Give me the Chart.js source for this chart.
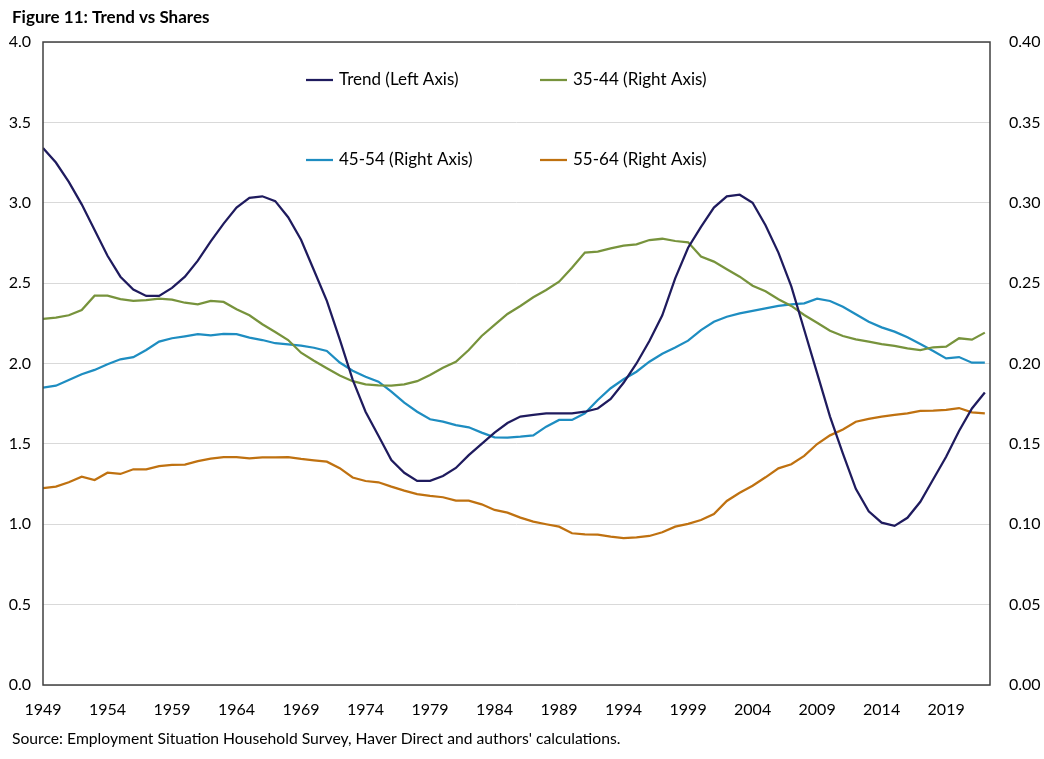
<!DOCTYPE html>
<html>
<head>
<meta charset="utf-8">
<script src="https://cdn.jsdelivr.net/npm/chart.js@4/dist/chart.umd.min.js"></script>
<style>
  html, body { margin: 0; padding: 0; background: #fff; }
  #wrap { width: 1044px; height: 759px; position: relative; }
</style>
</head>
<body>
<div id="wrap"><canvas id="trendChart"></canvas></div>
<script>
const years = [];
for (let y = 1949; y <= 2022; y++) years.push(y);

const xTickYears = [1949, 1954, 1959, 1964, 1969, 1974, 1979, 1984, 1989, 1994, 1999, 2004, 2009, 2014, 2019];

const trend = [
  3.34, 3.25, 3.13, 2.99, 2.83, 2.67, 2.54, 2.46, 2.42, 2.42,
  2.47, 2.54, 2.64, 2.76, 2.87, 2.97, 3.03, 3.04, 3.01, 2.91,
  2.77, 2.58, 2.39, 2.15, 1.90, 1.70, 1.55, 1.40, 1.32, 1.27,
  1.27, 1.30, 1.35, 1.43, 1.50, 1.57, 1.63, 1.67, 1.68, 1.69,
  1.69, 1.69, 1.70, 1.72, 1.78, 1.88, 2.00, 2.14, 2.30, 2.53,
  2.72, 2.85, 2.97, 3.04, 3.05, 3.00, 2.86, 2.69, 2.48, 2.21,
  1.94, 1.67, 1.44, 1.22, 1.08, 1.01, 0.99, 1.04, 1.14, 1.28,
  1.42, 1.58, 1.72, 1.82
];

const share3544 = [
  0.2277, 0.2285, 0.2300, 0.2333, 0.2422, 0.2422, 0.2400, 0.2390, 0.2395, 0.2403,
  0.2397, 0.2378, 0.2368, 0.2389, 0.2383, 0.2337, 0.2300, 0.2244, 0.2196, 0.2146,
  0.2067, 0.2017, 0.1970, 0.1925, 0.1890, 0.1870, 0.1864, 0.1862, 0.1870, 0.1890,
  0.1928, 0.1974, 0.2011, 0.2084, 0.2171, 0.2240, 0.2308, 0.2358, 0.2412, 0.2457,
  0.2509, 0.2596, 0.2690, 0.2696, 0.2716, 0.2733, 0.2741, 0.2768, 0.2776, 0.2762,
  0.2754, 0.2665, 0.2634, 0.2586, 0.2540, 0.2484, 0.2449, 0.2400, 0.2358, 0.2302,
  0.2254, 0.2204, 0.2171, 0.2150, 0.2136, 0.2121, 0.2109, 0.2094, 0.2084, 0.2101,
  0.2105, 0.2157, 0.2148, 0.2192
];

const share4554 = [
  0.1850, 0.1862, 0.1897, 0.1933, 0.1960, 0.1995, 0.2026, 0.2039, 0.2084, 0.2136,
  0.2157, 0.2169, 0.2182, 0.2175, 0.2184, 0.2182, 0.2161, 0.2146, 0.2126, 0.2119,
  0.2111, 0.2098, 0.2078, 0.2006, 0.1955, 0.1918, 0.1887, 0.1825, 0.1756, 0.1700,
  0.1653, 0.1638, 0.1617, 0.1603, 0.1570, 0.1541, 0.1539, 0.1545, 0.1553, 0.1607,
  0.1649, 0.1649, 0.1690, 0.1773, 0.1846, 0.1902, 0.1949, 0.2011, 0.2061, 0.2100,
  0.2142, 0.2208, 0.2260, 0.2291, 0.2312, 0.2328, 0.2343, 0.2358, 0.2368, 0.2374,
  0.2403, 0.2389, 0.2353, 0.2306, 0.2260, 0.2225, 0.2198, 0.2163, 0.2121, 0.2078,
  0.2032, 0.2040, 0.2005, 0.2005
];

const share5564 = [
  0.1224, 0.1234, 0.1261, 0.1296, 0.1275, 0.1321, 0.1313, 0.1342, 0.1342, 0.1362,
  0.1369, 0.1371, 0.1393, 0.1408, 0.1418, 0.1418, 0.1410, 0.1416, 0.1416, 0.1418,
  0.1406, 0.1398, 0.1389, 0.1349, 0.1291, 0.1269, 0.1261, 0.1234, 0.1209, 0.1188,
  0.1176, 0.1168, 0.1147, 0.1147, 0.1124, 0.1089, 0.1072, 0.1041, 0.1016, 0.1000,
  0.0985, 0.0944, 0.0937, 0.0936, 0.0923, 0.0914, 0.0919, 0.0927, 0.0950, 0.0985,
  0.1002, 0.1026, 0.1064, 0.1145, 0.1196, 0.1240, 0.1292, 0.1348, 0.1373, 0.1425,
  0.1499, 0.1553, 0.1590, 0.1638, 0.1655, 0.1669, 0.1680, 0.1690, 0.1705, 0.1707,
  0.1711, 0.1723, 0.1696, 0.1690
];

const FONT = "Lato, 'Open Sans', sans-serif";
const TEXT = "#000000";

function pts(values) {
  return years.map((yr, i) => ({ x: yr, y: values[i] }));
}

// title, source note, frame and the 2x2 legend inside the plot
const decorations = {
  id: "decorations",
  afterDraw(chart) {
    const { ctx, chartArea: a } = chart;
    ctx.save();
    ctx.strokeStyle = "#404040";
    ctx.lineWidth = 1.5;
    ctx.strokeRect(a.left, a.top, a.right - a.left, a.bottom - a.top);

    ctx.fillStyle = TEXT;
    ctx.textBaseline = "middle";
    ctx.textAlign = "left";
    ctx.font = "bold 17px " + FONT;
    ctx.fillText("Figure 11: Trend vs Shares", 12, 18);
    ctx.font = "15.7px " + FONT;
    ctx.fillText("Source: Employment Situation Household Survey, Haver Direct and authors' calculations.", 12, 739);

    const slots = [[306, 80], [540, 80], [306, 160], [540, 160]];
    ctx.font = "17px " + FONT;
    chart.data.datasets.forEach((ds, k) => {
      const [lx, ly] = slots[k];
      ctx.strokeStyle = ds.borderColor;
      ctx.lineWidth = 2.25;
      ctx.beginPath();
      ctx.moveTo(lx, ly);
      ctx.lineTo(lx + 27, ly);
      ctx.stroke();
      ctx.fillStyle = TEXT;
      ctx.fillText(ds.label, lx + 33, ly);
    });
    ctx.restore();
  }
};

new Chart(document.getElementById("trendChart"), {
  type: "line",
  data: {
    datasets: [
      { label: "Trend (Left Axis)", data: pts(trend), borderColor: "#1F1B5E", yAxisID: "yL" },
      { label: "35-44 (Right Axis)", data: pts(share3544), borderColor: "#77933C", yAxisID: "yR" },
      { label: "45-54 (Right Axis)", data: pts(share4554), borderColor: "#1E8DC1", yAxisID: "yR" },
      { label: "55-64 (Right Axis)", data: pts(share5564), borderColor: "#BF7110", yAxisID: "yR" }
    ]
  },
  options: {
    responsive: true,
    maintainAspectRatio: false,
    animation: false,
    layout: { padding: { top: 42, left: 0, right: 0, bottom: 0 } },
    elements: {
      point: { radius: 0 },
      line: { borderWidth: 2.25, tension: 0 }
    },
    plugins: { legend: { display: false }, tooltip: { enabled: false } },
    scales: {
      x: {
        type: "linear",
        min: 1949,
        max: 2022.4,
        afterBuildTicks: (s) => { s.ticks = xTickYears.map(v => ({ value: v })); },
        afterFit: (s) => { s.height = 74; },
        grid: { display: false, drawTicks: false },
        border: { display: false },
        ticks: {
          padding: 15,
          maxRotation: 0,
          autoSkip: false,
          color: TEXT,
          font: { family: FONT, size: 16 },
          callback: (v) => String(v)
        }
      },
      yL: {
        position: "left",
        min: 0,
        max: 4,
        afterFit: (s) => { s.width = 43; },
        ticks: {
          stepSize: 0.5,
          padding: 12,
          color: TEXT,
          font: { family: FONT, size: 16 },
          callback: (v) => v.toFixed(1)
        },
        grid: { color: "#d9d9d9", lineWidth: 1, drawTicks: false },
        border: { display: false }
      },
      yR: {
        position: "right",
        min: 0,
        max: 0.4,
        afterFit: (s) => { s.width = 54; },
        ticks: {
          stepSize: 0.05,
          padding: 19,
          color: TEXT,
          font: { family: FONT, size: 16 },
          callback: (v) => v.toFixed(2)
        },
        grid: { display: false, drawTicks: false },
        border: { display: false }
      }
    }
  },
  plugins: [decorations]
});
</script>
</body>
</html>
